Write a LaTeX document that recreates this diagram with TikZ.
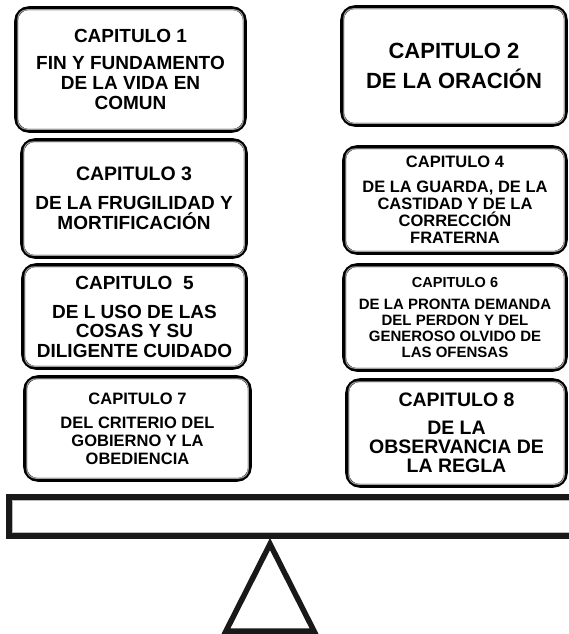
\documentclass[tikz,border=0pt]{standalone}
\usepackage{fontspec}
\setmainfont{Liberation Sans}
\begin{document}
\begin{tikzpicture}[x=1pt,y=-1pt,
  chapbox/.style={draw=black, line width=3.6pt, rounded corners=13pt, fill=white,
    align=center, inner sep=0pt},
  bodyfont/.style 2 args={font=\bfseries\fontsize{#1}{#2}\selectfont},
  innerline/.style={draw=gray!75, line width=1.1pt, rounded corners=9pt},
  beamline/.style={draw=black!90, line width=5.5pt},
  beaminner/.style={draw=gray!55, line width=1pt}]
\useasboundingbox (0,0) rectangle (569,634);
\clip (0,0) rectangle (569,634);

\node[chapbox, bodyfont={19}{20}, minimum width=229pt, minimum height=123pt] (b1) at (130.5,69.5)
  {{\fontsize{19}{20}\selectfont CAPITULO 1}\\[7pt]
   FIN Y FUNDAMENTO\\DE LA VIDA EN\\COMUN};
\node[chapbox, bodyfont={22}{30}, minimum width=224pt, minimum height=118pt] (b2) at (454,66)
  {CAPITULO 2\\DE LA ORACIÓN};
\node[chapbox, bodyfont={19}{20}, minimum width=224pt, minimum height=117pt] (b3) at (134,198.5)
  {{\fontsize{19.5}{20}\selectfont CAPITULO 3}\\[9pt]
   DE LA FRUGILIDAD Y\\MORTIFICACIÓN};
\node[chapbox, bodyfont={16.5}{17}, minimum width=222pt, minimum height=106pt] (b4) at (455,200)
  {{\fontsize{16.5}{17}\selectfont CAPITULO 4}\\[8pt]
   DE LA GUARDA, DE LA\\CASTIDAD Y DE LA\\CORRECCIÓN\\FRATERNA};
\node[chapbox, bodyfont={19}{19.5}, minimum width=223pt, minimum height=103pt] (b5) at (134.5,316.5)
  {{\fontsize{19}{20}\selectfont CAPITULO\ \ 5}\\[9.5pt]
   DE L USO DE LAS\\COSAS Y SU\\DILIGENTE CUIDADO};
\node[chapbox, bodyfont={15}{16}, minimum width=222pt, minimum height=105pt] (b6) at (455,317.5)
  {{\fontsize{14.5}{16}\selectfont CAPITULO 6}\\[6pt]
   DE LA PRONTA DEMANDA\\DEL PERDON Y DEL\\GENEROSO OLVIDO DE\\LAS OFENSAS};
\node[chapbox, bodyfont={16.5}{18}, minimum width=225pt, minimum height=103pt] (b7) at (137.5,428.5)
  {{\fontsize{16.5}{18}\selectfont CAPITULO 7}\\[6pt]
   DEL CRITERIO DEL\\GOBIERNO Y LA\\OBEDIENCIA};
\node[chapbox, bodyfont={19.5}{19}, minimum width=219pt, minimum height=106pt] (b8) at (456.5,433)
  {{\fontsize{19.5}{20}\selectfont CAPITULO 8}\\[9pt]
   DE LA\\OBSERVANCIA DE\\LA REGLA};

\foreach \b in {b1,b2,b3,b4,b5,b6,b7,b8}{
  \draw[innerline] ([xshift=3.6pt,yshift=-3.6pt]\b.north west) rectangle ([xshift=-3.6pt,yshift=3.6pt]\b.south east);
}

% balance beam
\coordinate (beamNW) at (9,497);
\coordinate (beamSE) at (580,536);
\draw[beamline] (beamNW) rectangle (beamSE);
\draw[beaminner] (12.5,500.5) rectangle (576,532.5);

% fulcrum
\coordinate (apex) at (270,544);
\coordinate (baseL) at (226,631);
\coordinate (baseR) at (314,631);
\draw[beamline, line join=miter] (apex) -- (baseL) -- (baseR) -- cycle;
\end{tikzpicture}
\end{document}
